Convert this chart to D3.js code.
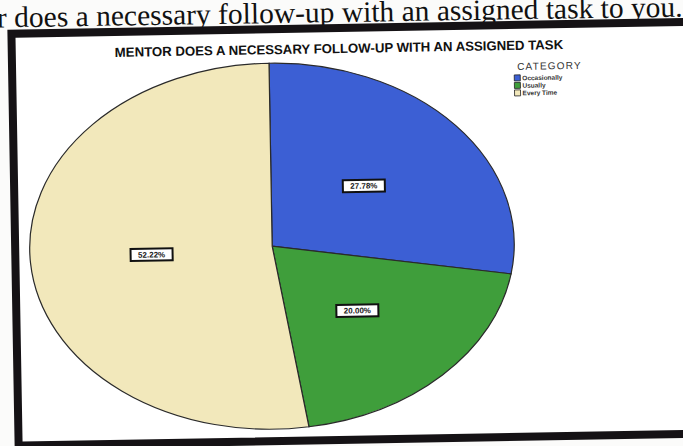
<!DOCTYPE html>
<html>
<head>
<meta charset="utf-8">
<script src="https://cdn.jsdelivr.net/npm/d3@7"></script>
<style>
html,body{margin:0;padding:0;background:#fbfbfa;}
svg{display:block;}
</style>
</head>
<body>
<svg id="chart" width="683" height="446"></svg>
<script>
const caption = "r does a necessary follow-up with an assigned task to you.";
const title = "MENTOR DOES A NECESSARY FOLLOW-UP WITH AN ASSIGNED TASK";
const legendTitle = "CATEGORY";
const categories = ["Occasionally", "Usually", "Every Time"];
const values = [27.78, 20.00, 52.22];
const colors = ["#3c5fd4", "#3f9e3b", "#f2e8bb"];

const svg = d3.select("#chart");

// caption line above the chart (part of photographed page)
svg.append("text")
  .attr("x", -3).attr("y", 22)
  .attr("transform", "rotate(-0.9, 340, 18)")
  .attr("font-family", "Liberation Serif, Times New Roman, serif")
  .attr("font-size", 29.5)
  .attr("fill", "#111")
  .text(caption);

const g = svg.append("g").attr("transform", "rotate(-1, 341, 235)");

// chart frame
g.append("rect")
  .attr("x", 15).attr("y", 28).attr("width", 700).attr("height", 412)
  .attr("fill", "#ffffff")
  .attr("stroke", "#151215").attr("stroke-width", 8);

// title
g.append("text")
  .attr("x", 118).attr("y", 53)
  .attr("font-family", "Liberation Sans, Arial, sans-serif")
  .attr("font-weight", "bold")
  .attr("font-size", 13.2)
  .attr("fill", "#111")
  .text(title);

// pie
const cx = 272, cy = 245, rx = 242, ry = 183;
const pie = d3.pie().sort(null).value(d => d.v);
const data = pie(categories.map((c, i) => ({c, v: values[i], col: colors[i]})));
const arc = d3.arc().innerRadius(0).outerRadius(1);

const pg = g.append("g").attr("transform", `translate(${cx},${cy}) scale(${rx},${ry})`);
pg.selectAll("path").data(data).join("path")
  .attr("d", arc)
  .attr("fill", d => d.data.col)
  .attr("stroke", "#2a2a2a")
  .attr("stroke-width", 1.2)
  .attr("vector-effect", "non-scaling-stroke");

// labels
const labelArc = d3.arc().innerRadius(0.5).outerRadius(0.5);
const fmt = d => d3.format(".2f")(d) + "%";
data.forEach(d => {
  const [ux, uy] = labelArc.centroid(d);
  const x = cx + ux * rx, y = cy + uy * ry;
  const lg = g.append("g").attr("transform", `translate(${x},${y})`);
  lg.append("rect")
    .attr("x", -21).attr("y", -6).attr("width", 42).attr("height", 12)
    .attr("fill", "#fff").attr("stroke", "#111").attr("stroke-width", 2);
  lg.append("text")
    .attr("text-anchor", "middle").attr("dy", "0.35em")
    .attr("font-family", "Liberation Sans, Arial, sans-serif")
    .attr("font-weight", "bold")
    .attr("font-size", 8)
    .attr("fill", "#222")
    .text(fmt(d.data.v));
});

// legend
const lx = 517, ly = 73;
g.append("text")
  .attr("x", lx + 3).attr("y", ly)
  .attr("font-family", "Liberation Sans, Arial, sans-serif")
  .attr("font-size", 10)
  .attr("letter-spacing", 1.2)
  .attr("fill", "#333")
  .text(legendTitle);
const leg = g.selectAll(".leg").data(categories).join("g")
  .attr("transform", (d, i) => `translate(${lx},${ly + 5 + i * 7.5})`);
leg.append("rect")
  .attr("width", 6).attr("height", 6)
  .attr("fill", (d, i) => colors[i])
  .attr("stroke", "#222").attr("stroke-width", 0.8);
leg.append("text")
  .attr("x", 8).attr("y", 5.5)
  .attr("font-family", "Liberation Sans, Arial, sans-serif")
  .attr("font-size", 6.5)
  .attr("font-weight", "bold")
  .attr("fill", "#333")
  .text(d => d);
</script>
</body>
</html>
